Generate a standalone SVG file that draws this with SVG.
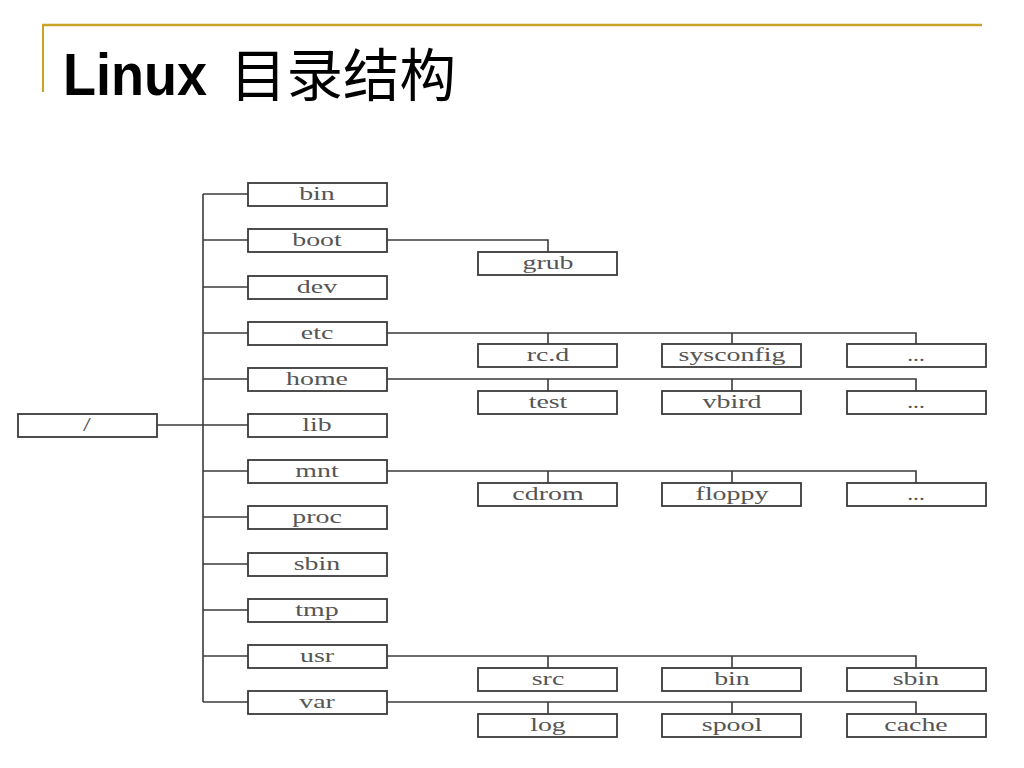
<svg xmlns="http://www.w3.org/2000/svg" width="1024" height="768" viewBox="0 0 1024 768">
<style>
.box rect{fill:#fff;stroke:#3a3a3a;stroke-width:1.8}
.box text{font-family:"Liberation Serif","Times New Roman",serif;font-size:18px;fill:#555;text-anchor:middle}
.conn line,.conn polyline{stroke:#3a3a3a;stroke-width:1.6;fill:none}
.title{font-family:"Liberation Sans","Noto Sans CJK SC",sans-serif;fill:#000}
</style>
<rect width="1024" height="768" fill="#fff"/>
<g id="header">
<line x1="42" y1="25" x2="982" y2="25" stroke="#C9A227" stroke-width="2.5"/>
<line x1="43" y1="24" x2="43" y2="92" stroke="#C9A227" stroke-width="2"/>
<text class="title" x="63" y="95" font-size="60" font-weight="bold" textLength="144" lengthAdjust="spacingAndGlyphs">Linux</text>
<text class="title" x="230" y="96" font-size="57" font-family="'Noto Sans CJK SC',sans-serif" font-weight="normal" textLength="226" lengthAdjust="spacingAndGlyphs">目录结构</text>
</g>
<g class="conn" id="connectors">
<line x1="203" y1="194" x2="203" y2="702"/>
<line x1="157" y1="425" x2="248" y2="425"/>
<line x1="203" y1="194" x2="248" y2="194"/>
<line x1="203" y1="240" x2="248" y2="240"/>
<line x1="203" y1="287" x2="248" y2="287"/>
<line x1="203" y1="333" x2="248" y2="333"/>
<line x1="203" y1="379" x2="248" y2="379"/>
<line x1="203" y1="471" x2="248" y2="471"/>
<line x1="203" y1="517" x2="248" y2="517"/>
<line x1="203" y1="564" x2="248" y2="564"/>
<line x1="203" y1="610" x2="248" y2="610"/>
<line x1="203" y1="656" x2="248" y2="656"/>
<line x1="203" y1="702" x2="248" y2="702"/>
<polyline points="387,240 548,240 548,252"/>
<polyline points="387,333 916,333 916,344"/>
<line x1="548" y1="333" x2="548" y2="344"/>
<line x1="732" y1="333" x2="732" y2="344"/>
<polyline points="387,379 916,379 916,391"/>
<line x1="548" y1="379" x2="548" y2="391"/>
<line x1="732" y1="379" x2="732" y2="391"/>
<polyline points="387,471 916,471 916,483"/>
<line x1="548" y1="471" x2="548" y2="483"/>
<line x1="732" y1="471" x2="732" y2="483"/>
<polyline points="387,656 916,656 916,668"/>
<line x1="548" y1="656" x2="548" y2="668"/>
<line x1="732" y1="656" x2="732" y2="668"/>
<polyline points="387,702 916,702 916,714"/>
<line x1="548" y1="702" x2="548" y2="714"/>
<line x1="732" y1="702" x2="732" y2="714"/>
</g>
<g class="box" id="root"><rect x="18" y="414" width="139" height="23"/><text transform="translate(87,431) scale(1.55,1)">/</text></g>
<g class="box" id="bin"><rect x="248" y="183" width="139" height="23"/><text transform="translate(317,200) scale(1.55,1)">bin</text></g>
<g class="box" id="boot"><rect x="248" y="229" width="139" height="23"/><text transform="translate(317,246) scale(1.55,1)">boot</text></g>
<g class="box" id="dev"><rect x="248" y="276" width="139" height="23"/><text transform="translate(317,293) scale(1.55,1)">dev</text></g>
<g class="box" id="etc"><rect x="248" y="322" width="139" height="23"/><text transform="translate(317,339) scale(1.55,1)">etc</text></g>
<g class="box" id="home"><rect x="248" y="368" width="139" height="23"/><text transform="translate(317,385) scale(1.55,1)">home</text></g>
<g class="box" id="lib"><rect x="248" y="414" width="139" height="23"/><text transform="translate(317,431) scale(1.55,1)">lib</text></g>
<g class="box" id="mnt"><rect x="248" y="460" width="139" height="23"/><text transform="translate(317,477) scale(1.55,1)">mnt</text></g>
<g class="box" id="proc"><rect x="248" y="506" width="139" height="23"/><text transform="translate(317,523) scale(1.55,1)">proc</text></g>
<g class="box" id="sbin"><rect x="248" y="553" width="139" height="23"/><text transform="translate(317,570) scale(1.55,1)">sbin</text></g>
<g class="box" id="tmp"><rect x="248" y="599" width="139" height="23"/><text transform="translate(317,616) scale(1.55,1)">tmp</text></g>
<g class="box" id="usr"><rect x="248" y="645" width="139" height="23"/><text transform="translate(317,662) scale(1.55,1)">usr</text></g>
<g class="box" id="var"><rect x="248" y="691" width="139" height="23"/><text transform="translate(317,708) scale(1.55,1)">var</text></g>
<g class="box" id="grub"><rect x="478" y="252" width="139" height="23"/><text transform="translate(548,269) scale(1.55,1)">grub</text></g>
<g class="box" id="rcd"><rect x="478" y="344" width="139" height="23"/><text transform="translate(548,361) scale(1.55,1)">rc.d</text></g>
<g class="box" id="sysconfig"><rect x="662" y="344" width="139" height="23"/><text transform="translate(732,361) scale(1.55,1)">sysconfig</text></g>
<g class="box" id="etc-more"><rect x="847" y="344" width="139" height="23"/><text transform="translate(916,361) scale(1.3,1)" font-size="13">...</text></g>
<g class="box" id="test"><rect x="478" y="391" width="139" height="23"/><text transform="translate(548,408) scale(1.55,1)">test</text></g>
<g class="box" id="vbird"><rect x="662" y="391" width="139" height="23"/><text transform="translate(732,408) scale(1.55,1)">vbird</text></g>
<g class="box" id="home-more"><rect x="847" y="391" width="139" height="23"/><text transform="translate(916,408) scale(1.3,1)" font-size="13">...</text></g>
<g class="box" id="cdrom"><rect x="478" y="483" width="139" height="23"/><text transform="translate(548,500) scale(1.55,1)">cdrom</text></g>
<g class="box" id="floppy"><rect x="662" y="483" width="139" height="23"/><text transform="translate(732,500) scale(1.55,1)">floppy</text></g>
<g class="box" id="mnt-more"><rect x="847" y="483" width="139" height="23"/><text transform="translate(916,500) scale(1.3,1)" font-size="13">...</text></g>
<g class="box" id="src"><rect x="478" y="668" width="139" height="23"/><text transform="translate(548,685) scale(1.55,1)">src</text></g>
<g class="box" id="usr-bin"><rect x="662" y="668" width="139" height="23"/><text transform="translate(732,685) scale(1.55,1)">bin</text></g>
<g class="box" id="usr-sbin"><rect x="847" y="668" width="139" height="23"/><text transform="translate(916,685) scale(1.55,1)">sbin</text></g>
<g class="box" id="log"><rect x="478" y="714" width="139" height="23"/><text transform="translate(548,731) scale(1.55,1)">log</text></g>
<g class="box" id="spool"><rect x="662" y="714" width="139" height="23"/><text transform="translate(732,731) scale(1.55,1)">spool</text></g>
<g class="box" id="cache"><rect x="847" y="714" width="139" height="23"/><text transform="translate(916,731) scale(1.55,1)">cache</text></g>
</svg>
